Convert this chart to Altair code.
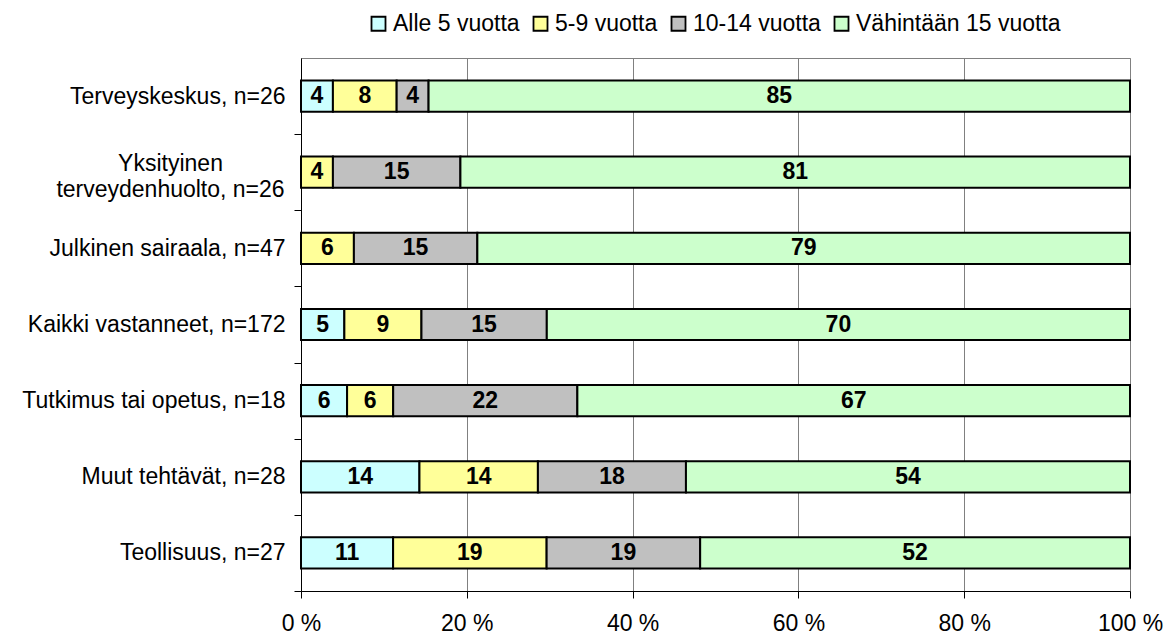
import altair as alt
import pandas as pd

categories = [
    "Terveyskeskus, n=26",
    "Yksityinen|terveydenhuolto, n=26",
    "Julkinen sairaala, n=47",
    "Kaikki vastanneet, n=172",
    "Tutkimus tai opetus, n=18",
    "Muut tehtävät, n=28",
    "Teollisuus, n=27",
]
series = ["Alle 5 vuotta", "5-9 vuotta", "10-14 vuotta", "Vähintään 15 vuotta"]
colors = ["#CCFFFF", "#FFFF99", "#C0C0C0", "#CCFFCC"]

alle5 = [3.85, 0, 0, 5.23, 5.56, 14.29, 11.11]
v5_9 = [7.69, 3.85, 6.38, 9.30, 5.56, 14.29, 18.52]
v10_14 = [3.85, 15.38, 14.89, 15.12, 22.22, 17.86, 18.52]
v15 = [84.62, 80.77, 78.72, 70.35, 66.67, 53.57, 51.85]

rows = []
for i, c in enumerate(categories):
    for j, (s, vals) in enumerate(zip(series, [alle5, v5_9, v10_14, v15])):
        rows.append({"cat": c, "series": s, "ord": j, "value": vals[i]})
df = pd.DataFrame(rows)

font = "Liberation Sans"
FS = 23
STEP = 533 / 7
MULTI = "indexof(datum.label, '|') >= 0"

base = (
    alt.Chart(df)
    .transform_filter("datum.value > 0")
    .transform_stack(
        stack="value",
        as_=["s0", "s1"],
        groupby=["cat"],
        sort=[alt.SortField("ord", order="ascending")],
        offset="normalize",
    )
    .transform_calculate(
        x0="datum.s0 * 100",
        x1="datum.s1 * 100",
        mid="(datum.s0 + datum.s1) * 50",
        lbl="format(datum.value, '.0f')",
    )
)

y_enc = alt.Y(
    "cat:N",
    sort=categories,
    title=None,
    scale=alt.Scale(paddingInner=0.59, paddingOuter=0.295),
    axis=alt.Axis(
        labelExpr="split(datum.label, '|')",
        labelFont=font,
        labelFontSize=FS,
        labelColor="black",
        labelPadding={"condition": {"test": MULTI, "value": 124}, "value": 9},
        labelAlign={"condition": {"test": MULTI, "value": "center"}, "value": "right"},
        labelLineHeight=26,
        labelOffset={"condition": {"test": MULTI, "value": -STEP / 2 - 9}, "value": -STEP / 2},
        tickOffset=STEP / 2,
        tickSize=7,
        tickColor="black",
        domainColor="black",
        labelLimit=400,
    ),
)

bars = base.mark_bar(stroke="black", strokeWidth=2).encode(
    x=alt.X(
        "x0:Q",
        scale=alt.Scale(domain=[0, 100], nice=False),
        title=None,
        axis=alt.Axis(
            values=[0, 20, 40, 60, 80, 100],
            labelExpr="datum.value + ' %'",
            labelFont=font,
            labelFontSize=FS,
            labelColor="black",
            labelPadding=14,
            labelFlush=False,
            tickSize=7,
            tickColor="black",
            domainColor="black",
            grid=True,
            gridColor="#808080",
            gridWidth=1,
        ),
    ),
    x2="x1:Q",
    y=y_enc,
    color=alt.Color(
        "series:N",
        scale=alt.Scale(domain=series, range=colors),
        title=None,
        legend=alt.Legend(
            orient="none",
            legendX=66,
            legendY=-46,
            direction="horizontal",
            symbolType="square",
            symbolSize=196,
            symbolStrokeColor="black",
            symbolStrokeWidth=1.8,
            labelFont=font,
            labelFontSize=FS,
            labelColor="black",
            labelOffset=3,
            labelLimit=400,
            columnPadding=9,
        ),
    ),
)

texts = base.mark_text(
    font=font, fontSize=FS, fontWeight="bold", color="black", baseline="middle"
).encode(
    x=alt.X("mid:Q"),
    y=alt.Y("cat:N", sort=categories),
    text="lbl:N",
)

chart = (
    alt.layer(bars, texts)
    .properties(
        width=829,
        height=533,
        autosize=alt.AutoSizeParams(type="none"),
        padding={"left": 293, "top": 50, "right": 34, "bottom": 44},
    )
    .configure_view(stroke="#808080", strokeWidth=1)
)

chart.save("out.html", embed_options={"renderer": "svg", "actions": False})
